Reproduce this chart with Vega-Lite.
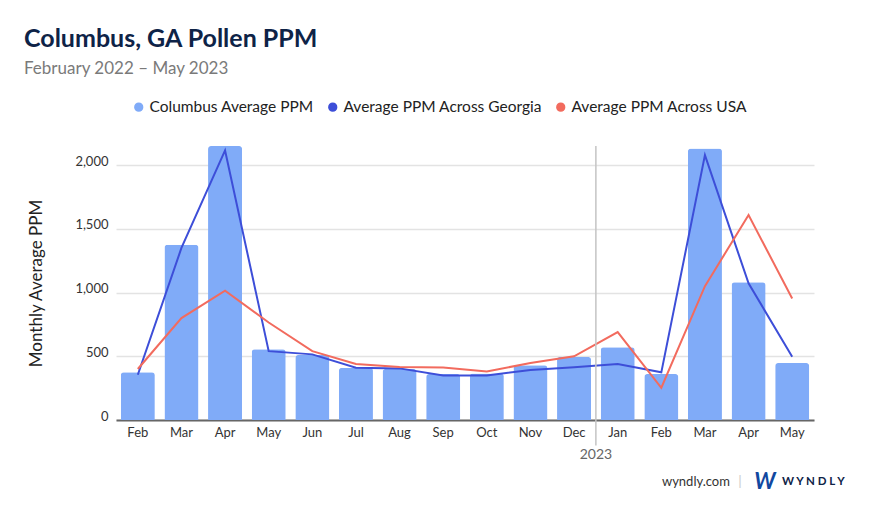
{
  "$schema": "https://vega.github.io/schema/vega-lite/v6.json",
  "autosize": "none",
  "width": 698,
  "height": 274,
  "padding": {"left": 116, "top": 146, "right": 66, "bottom": 90},
  "background": "white",
  "config": {
    "view": {"stroke": null},
    "font": "Lato",
    "axis": {"labelFont": "Lato", "titleFont": "Lato"},
    "legend": {"labelFont": "Lato"}
  },
  "title": {
    "text": "Columbus, GA Pollen PPM",
    "subtitle": "February 2022 – May 2023",
    "anchor": "start",
    "frame": "bounds",
    "font": "Lato",
    "fontSize": 25,
    "fontWeight": "bold",
    "color": "#0e2347",
    "subtitleFont": "Lato",
    "subtitleFontSize": 17,
    "subtitleColor": "#7a7a7a",
    "subtitlePadding": 9,
    "offset": 22,
    "dx": -3
  },
  "data": {
    "values": [
      {"m": "Feb 2022", "columbus": 375, "georgia": 355, "usa": 400},
      {"m": "Mar 2022", "columbus": 1375, "georgia": 1350, "usa": 800},
      {"m": "Apr 2022", "columbus": 2150, "georgia": 2115, "usa": 1015},
      {"m": "May 2022", "columbus": 555, "georgia": 540, "usa": 765},
      {"m": "Jun 2022", "columbus": 510, "georgia": 515, "usa": 540},
      {"m": "Jul 2022", "columbus": 410, "georgia": 410, "usa": 440},
      {"m": "Aug 2022", "columbus": 400, "georgia": 405, "usa": 415},
      {"m": "Sep 2022", "columbus": 360, "georgia": 350, "usa": 412},
      {"m": "Oct 2022", "columbus": 365, "georgia": 350, "usa": 380},
      {"m": "Nov 2022", "columbus": 430, "georgia": 392, "usa": 448},
      {"m": "Dec 2022", "columbus": 495, "georgia": 413, "usa": 500},
      {"m": "Jan 2023", "columbus": 570, "georgia": 440, "usa": 690},
      {"m": "Feb 2023", "columbus": 360, "georgia": 374, "usa": 253},
      {"m": "Mar 2023", "columbus": 2130, "georgia": 2078, "usa": 1050},
      {"m": "Apr 2023", "columbus": 1080, "georgia": 1072, "usa": 1608},
      {"m": "May 2023", "columbus": 447, "georgia": 497, "usa": 954}
    ]
  },
  "encoding": {
    "x": {
      "field": "m",
      "type": "nominal",
      "sort": null,
      "scale": {"paddingInner": 0.22, "paddingOuter": 0.11},
      "axis": {
        "title": null,
        "labelExpr": "split(datum.value, ' ')[0]",
        "labelAngle": 0,
        "labelFontSize": 13,
        "labelColor": "#333333",
        "labelPadding": 6,
        "ticks": false,
        "domainColor": "#666666",
        "domainWidth": 2,
        "grid": false
      }
    }
  },
  "layer": [
    {
      "mark": {"type": "bar", "cornerRadiusTopLeft": 3, "cornerRadiusTopRight": 3},
      "encoding": {
        "y": {
          "field": "columbus",
          "type": "quantitative",
          "scale": {"domain": [0, 2150], "nice": false},
          "axis": {
            "title": "Monthly Average PPM",
            "titleFontSize": 17,
            "titleFontWeight": "normal",
            "titleColor": "#222222",
            "titleX": -80,
            "titleBaseline": "middle",
            "values": [0, 500, 1000, 1500, 2000],
            "format": ",.0f",
            "labelFontSize": 13,
            "labelColor": "#333333",
            "labelPadding": 8,
            "labelOffset": -4,
            "ticks": false,
            "domain": false,
            "gridColor": "#e3e3e3",
            "gridWidth": 1.5
          }
        },
        "color": {
          "datum": "columbus",
          "type": "nominal",
          "title": null,
          "scale": {"domain": ["columbus", "georgia", "usa"], "range": ["#80abf8", "#3d4ed8", "#f26b5e"]},
          "legend": {
            "orient": "none",
            "legendX": 15,
            "legendY": -47,
            "direction": "horizontal",
            "title": null,
            "symbolType": "circle",
            "symbolSize": 60,
            "labelFontSize": 15.5,
            "labelColor": "#222222",
            "labelOffset": 3,
            "labelLimit": 400,
            "columnPadding": 11,
            "labelExpr": "datum.label == 'columbus' ? 'Columbus Average PPM' : datum.label == 'georgia' ? 'Average PPM Across Georgia' : 'Average PPM Across USA'",
            "encode": {
              "symbols": {"update": {"fill": {"scale": "color", "field": "value"}, "stroke": {"value": "transparent"}, "opacity": {"value": 1}}}
            }
          }
        }
      }
    },
    {
      "transform": [{"fold": ["georgia", "usa"], "as": ["key", "val"]}],
      "mark": {"type": "line", "strokeWidth": 2},
      "encoding": {
        "x": {"field": "m", "type": "nominal", "sort": null, "bandPosition": 0.5},
        "y": {"field": "val", "type": "quantitative"},
        "color": {"field": "key", "type": "nominal", "title": null}
      }
    },
    {
      "data": {"values": [{"top": 2150, "bottom": -200}]},
      "mark": {"type": "rule", "color": "#c4c4c4", "strokeWidth": 1.5},
      "encoding": {
        "x": {"datum": "Jan 2023", "bandPosition": -0.141},
        "y": {"field": "top", "type": "quantitative"},
        "y2": {"field": "bottom"}
      }
    },
    {
      "data": {"values": [{"t": "2023", "yy": -275}]},
      "mark": {"type": "text", "fontSize": 14, "color": "#666666", "align": "center", "baseline": "middle", "font": "Lato"},
      "encoding": {
        "x": {"datum": "Jan 2023", "bandPosition": -0.141},
        "y": {"field": "yy", "type": "quantitative"},
        "text": {"field": "t"}
      }
    },
    {
      "data": {"values": [{"t": "wyndly.com", "yy": -490}]},
      "mark": {"type": "text", "fontSize": 13, "color": "#333333", "align": "right", "baseline": "middle", "font": "Lato", "dx": 25},
      "encoding": {
        "x": {"datum": "Mar 2023", "bandPosition": 0.5},
        "y": {"field": "yy", "type": "quantitative"},
        "text": {"field": "t"}
      }
    },
    {
      "data": {"values": [{"t": "|", "yy": -490}]},
      "mark": {"type": "text", "fontSize": 14, "color": "#cccccc", "align": "center", "baseline": "middle", "font": "Lato", "dx": 35},
      "encoding": {
        "x": {"datum": "Mar 2023", "bandPosition": 0.5},
        "y": {"field": "yy", "type": "quantitative"},
        "text": {"field": "t"}
      }
    },
    {
      "data": {"values": [{"t": "W", "yy": -490}]},
      "mark": {"type": "text", "fontSize": 22, "fontWeight": "bold", "fontStyle": "italic", "color": "#1148a0", "align": "center", "baseline": "middle", "font": "Lato", "dx": 60},
      "encoding": {
        "x": {"datum": "Mar 2023", "bandPosition": 0.5},
        "y": {"field": "yy", "type": "quantitative"},
        "text": {"field": "t"}
      }
    },
    {
      "data": {"values": [{"t": "W Y N D L Y", "yy": -490}]},
      "mark": {"type": "text", "fontSize": 11.5, "fontWeight": "bold", "color": "#0e2347", "align": "left", "baseline": "middle", "font": "Lato", "dx": 77},
      "encoding": {
        "x": {"datum": "Mar 2023", "bandPosition": 0.5},
        "y": {"field": "yy", "type": "quantitative"},
        "text": {"field": "t"}
      }
    }
  ]
}
